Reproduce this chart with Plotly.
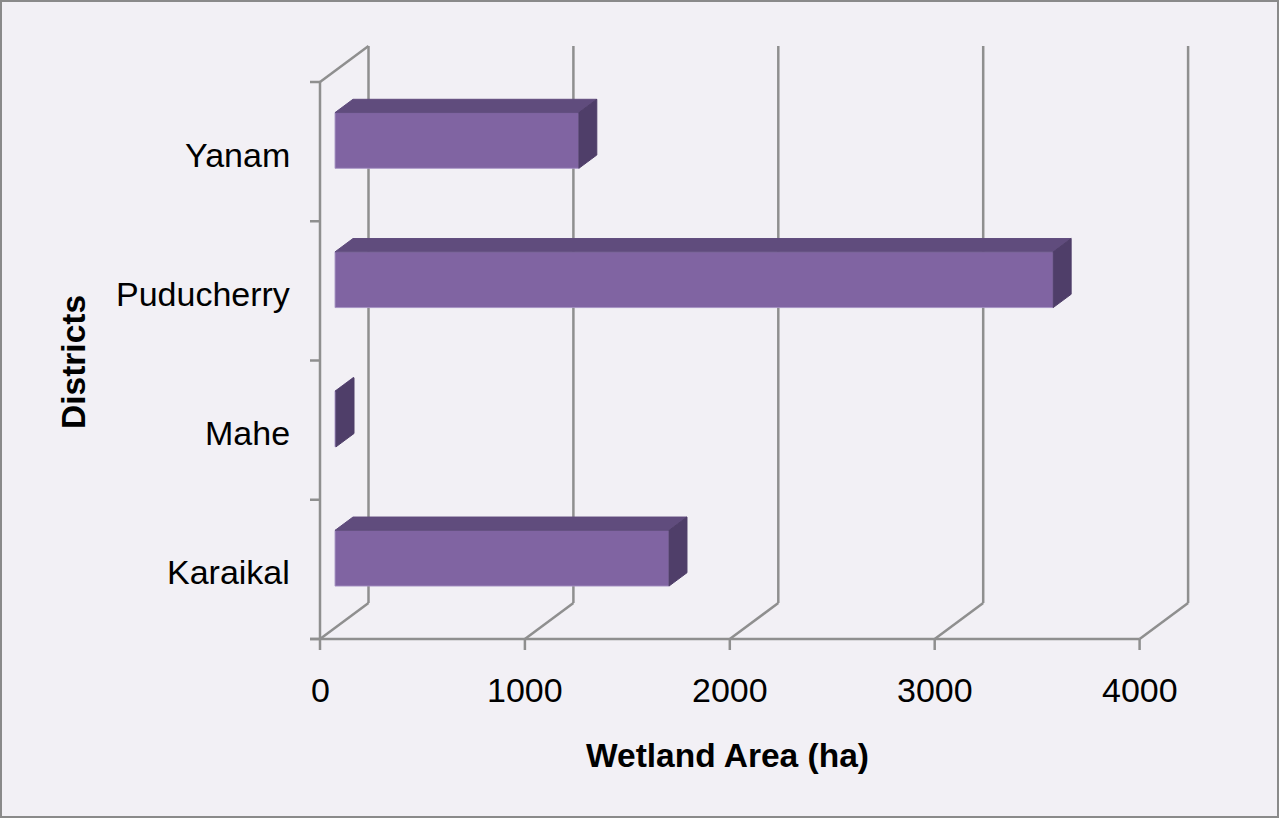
import plotly.graph_objects as go

# ---- data ----
districts = ["Karaikal", "Mahe", "Puducherry", "Yanam"]
wetland_area = [1630, 5, 3505, 1190]
x_ticks = [0, 1000, 2000, 3000, 4000]
x_title = "Wetland Area (ha)"
y_title = "Districts"

# ---- projection helpers (oblique 3D look) ----
W, H = 1279, 818
PX_PER_HA = 0.2049          # horizontal pixels per ha
PX_PER_CAT = 139.25         # vertical pixels per category
X0_PX, Y0_PX = 320, 639     # pixel position of origin (front plane)
DEPTH_DX_PX, DEPTH_DY_PX = 48.5, 36.0

xmin = -X0_PX / PX_PER_HA
xmax = (W - X0_PX) / PX_PER_HA
ymin = (Y0_PX - H) / PX_PER_CAT
ymax = Y0_PX / PX_PER_CAT
DX = DEPTH_DX_PX / PX_PER_HA
DY = DEPTH_DY_PX / PX_PER_CAT


def P(v, c, d):
    return v + d * DX, c + d * DY


n = len(districts)
xmax_val = x_ticks[-1]
grid_col = "#8F8F8F"
gx, gy = [], []


def seg(a, b):
    gx.extend([a[0], b[0], None])
    gy.extend([a[1], b[1], None])


# back wall verticals + floor diagonals + bottom ticks
for t in x_ticks:
    seg(P(t, 0, 1), P(t, n, 1))
    seg(P(t, 0, 0), P(t, 0, 1))
    seg(P(t, 0, 0), P(t, -11 / PX_PER_CAT, 0))
# front floor edge
seg(P(-10 / PX_PER_HA, 0, 0), P(xmax_val, 0, 0))
# left wall front edge, top diagonal
seg(P(0, 0, 0), P(0, n, 0))
seg(P(0, n, 0), P(0, n, 1))
# left ticks
for i in range(n + 1):
    seg(P(0, i, 0), P(-10 / PX_PER_HA, i, 0))

fig = go.Figure()
fig.add_trace(go.Scatter(x=gx, y=gy, mode="lines",
                         line=dict(color=grid_col, width=2.5),
                         hoverinfo="skip", showlegend=False))

# bars
d1, d2 = 0.31, 0.68
half = 0.2
front_col, top_col, side_col = "#8064A2", "#604C7D", "#4F3E69"
for i, (name, val) in enumerate(zip(districts, wetland_area)):
    c = i + 0.5
    yb, yt = c - half, c + half
    faces = [
        ([P(0, yb, d1), P(val, yb, d1), P(val, yt, d1), P(0, yt, d1)], front_col, "rgba(165,145,195,0.9)"),
        ([P(0, yt, d1), P(val, yt, d1), P(val, yt, d2), P(0, yt, d2)], top_col, top_col),
        ([P(val, yb, d1), P(val, yt, d1), P(val, yt, d2), P(val, yb, d2)], side_col, side_col),
    ]
    for pts, fc, lc in faces:
        xs = [p[0] for p in pts] + [pts[0][0]]
        ys = [p[1] for p in pts] + [pts[0][1]]
        fig.add_trace(go.Scatter(x=xs, y=ys, mode="lines", fill="toself",
                                 fillcolor=fc, line=dict(color=lc, width=1),
                                 hoverinfo="skip", showlegend=False))

font_family = "Liberation Sans, Arial, sans-serif"
ann = []
for t in x_ticks:
    ann.append(dict(x=t, y=0, xref="x", yref="y", text=f"{t}", showarrow=False,
                    yshift=-51, xanchor="center", yanchor="middle",
                    font=dict(size=34, color="#000000", family=font_family)))
for i, name in enumerate(districts):
    ann.append(dict(x=0, y=i + 0.5, xref="x", yref="y", text=name, showarrow=False,
                    xshift=-28, yshift=-3, xanchor="right", yanchor="middle",
                    font=dict(size=34, color="#000000", family=font_family)))
ann.append(dict(x=727 / W, y=1 - 755 / H, xref="paper", yref="paper", text=f"<b>{x_title}</b>",
                showarrow=False, xanchor="center", yanchor="middle",
                font=dict(size=33.5, color="#000000", family=font_family)))
ann.append(dict(x=73 / W, y=1 - 362 / H, xref="paper", yref="paper", text=f"<b>{y_title}</b>",
                showarrow=False, xanchor="center", yanchor="middle", textangle=-90,
                font=dict(size=33.5, color="#000000", family=font_family)))

fig.update_layout(
    width=W, height=H, autosize=False,
    margin=dict(l=0, r=0, t=0, b=0, pad=0),
    paper_bgcolor="#F2F0F5", plot_bgcolor="#F2F0F5",
    xaxis=dict(range=[xmin, xmax], visible=False, fixedrange=True),
    yaxis=dict(range=[ymin, ymax], visible=False, fixedrange=True),
    annotations=ann,
    shapes=[dict(type="rect", xref="paper", yref="paper", x0=0, y0=0, x1=1, y1=1,
                 line=dict(color="#8A8A8A", width=4), fillcolor="rgba(0,0,0,0)")],
)

fig.write_html("out.html", config={"displayModeBar": False},
               post_script="document.body.style.margin='0';document.body.style.overflow='hidden';")
